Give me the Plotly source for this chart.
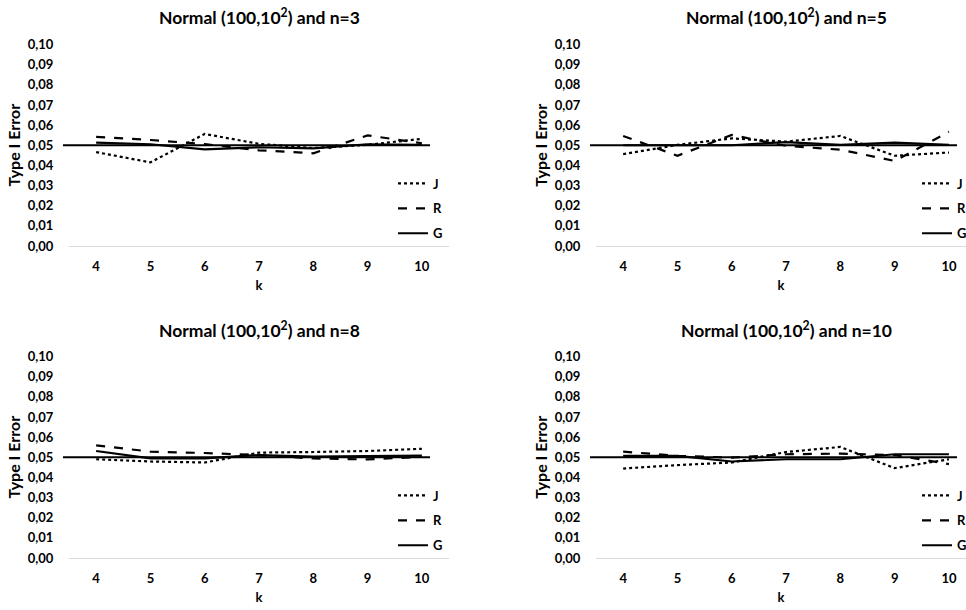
import plotly.graph_objects as go

k_values = [4, 5, 6, 7, 8, 9, 10]
tick_labels = ["4", "5", "6", "7", "8", "9", "10"]
series_names = ["J", "R", "G"]

titles = ["Normal (100,10<sup>2</sup>) and n=3", "Normal (100,10<sup>2</sup>) and n=5",
          "Normal (100,10<sup>2</sup>) and n=8", "Normal (100,10<sup>2</sup>) and n=10"]

# n=3
J_n3 = [0.0466, 0.0415, 0.0556, 0.0507, 0.0486, 0.0502, 0.0532]
R_n3 = [0.0542, 0.0526, 0.0506, 0.0475, 0.0460, 0.0549, 0.0510]
G_n3 = [0.0513, 0.0505, 0.0480, 0.0490, 0.0484, 0.0505, 0.0502]
# n=5
J_n5 = [0.0456, 0.0502, 0.0534, 0.0518, 0.0546, 0.0448, 0.0464]
R_n5 = [0.0546, 0.0448, 0.0551, 0.0497, 0.0478, 0.0422, 0.0567]
G_n5 = [0.0500, 0.0500, 0.0500, 0.0516, 0.0502, 0.0513, 0.0502]
# n=8
J_n8 = [0.0490, 0.0479, 0.0474, 0.0523, 0.0526, 0.0531, 0.0542]
R_n8 = [0.0559, 0.0528, 0.0521, 0.0511, 0.0494, 0.0489, 0.0502]
G_n8 = [0.0531, 0.0494, 0.0494, 0.0511, 0.0503, 0.0505, 0.0508]
# n=10
J_n10 = [0.0444, 0.0461, 0.0474, 0.0526, 0.0551, 0.0446, 0.0490]
R_n10 = [0.0528, 0.0507, 0.0498, 0.0515, 0.0518, 0.0511, 0.0466]
G_n10 = [0.0507, 0.0507, 0.0479, 0.0490, 0.0490, 0.0515, 0.0515]

reference_level = 0.05
y_ticks = [0.00, 0.01, 0.02, 0.03, 0.04, 0.05, 0.06, 0.07, 0.08, 0.09, 0.10]

panels = [(J_n3, R_n3, G_n3), (J_n5, R_n5, G_n5), (J_n8, R_n8, G_n8), (J_n10, R_n10, G_n10)]

W, H = 966, 610
FONT = "Lato"
dash_styles = {"J": "dot", "R": "dash", "G": "solid"}

fig = go.Figure()

# layout geometry (pixels)
x_doms = [(69, 449), (596, 966)]
x_ranges = [[3.5, 10.5], [3.5, 3.5 + 370 / 54.3]]
y_doms = [(44.5, 246), (356.5, 558)]
line_spans = [(63, 430), (590, 957)]
legend_pos = [(393 / W, "left"), (972 / W, "right")]

for p, data in enumerate(panels):
    col = p % 2
    row = p // 2
    ax = "" if p == 0 else str(p + 1)
    leg = "legend" if p == 0 else "legend" + str(p + 1)
    for name, vals in zip(series_names, data):
        fig.add_trace(go.Scatter(
            x=k_values, y=vals, name=name, mode="lines",
            line=dict(color="black", width=2.2, dash=dash_styles[name]),
            xaxis="x" + ax, yaxis="y" + ax, legend=leg, legendgroup=name + str(p),
            hoverinfo="skip"))
    xd = x_doms[col]
    yd = y_doms[row]
    fig.update_layout(**{
        "xaxis" + ax: dict(
            domain=[xd[0] / W, xd[1] / W], range=x_ranges[col],
            tickvals=k_values, ticktext=tick_labels, showgrid=False, zeroline=False,
            showline=True, linecolor="#D9D9D9", linewidth=1,
            ticks="outside", ticklen=8, tickcolor="rgba(0,0,0,0)",
            tickfont=dict(size=13, color="black", family=FONT, weight="bold"),
            title=dict(text="k", font=dict(size=13, color="black", family=FONT, weight="bold"), standoff=8),
            anchor="y" + ax, fixedrange=True, automargin=False),
        "yaxis" + ax: dict(
            domain=[1 - yd[1] / H, 1 - yd[0] / H], range=[0, 0.10],
            tickvals=y_ticks, tickformat=".2f", showgrid=False, zeroline=False,
            showline=False, ticks="outside", ticklen=12, tickcolor="rgba(0,0,0,0)",
            tickfont=dict(size=13, color="black", family=FONT, weight="bold"),
            title=dict(text="Type I Error", font=dict(size=16, color="black", family=FONT, weight="bold"), standoff=3),
            anchor="x" + ax, fixedrange=True, automargin=False),
        leg: dict(
            x=legend_pos[col][0], xanchor=legend_pos[col][1],
            y=1 - (yd[0] + 124) / H, yanchor="top",
            font=dict(size=13, color="black", family=FONT, weight="bold"),
            bgcolor="rgba(0,0,0,0)", tracegroupgap=5, itemwidth=30,
            traceorder="grouped"),
    })
    fig.add_shape(type="line", xref="paper", yref="y" + ax,
                  x0=line_spans[col][0] / W, x1=line_spans[col][1] / W,
                  y0=reference_level, y1=reference_level,
                  line=dict(color="black", width=2))
    fig.add_annotation(text=titles[p], xref="paper", yref="paper",
                       x=(xd[0] + 449 - 69 + xd[0]) / 2 / W, y=1 - (yd[0] - 27.5) / H,
                       xanchor="center", yanchor="middle", showarrow=False,
                       font=dict(size=17.5, color="black", family=FONT, weight="bold"))

fig.update_layout(
    width=W, height=H, margin=dict(l=0, r=0, t=0, b=0, pad=0, autoexpand=False),
    plot_bgcolor="white", paper_bgcolor="white",
    separators=", ", showlegend=True,
    font=dict(family=FONT, color="black", weight="bold"),
)

fig.write_html("out.html")
